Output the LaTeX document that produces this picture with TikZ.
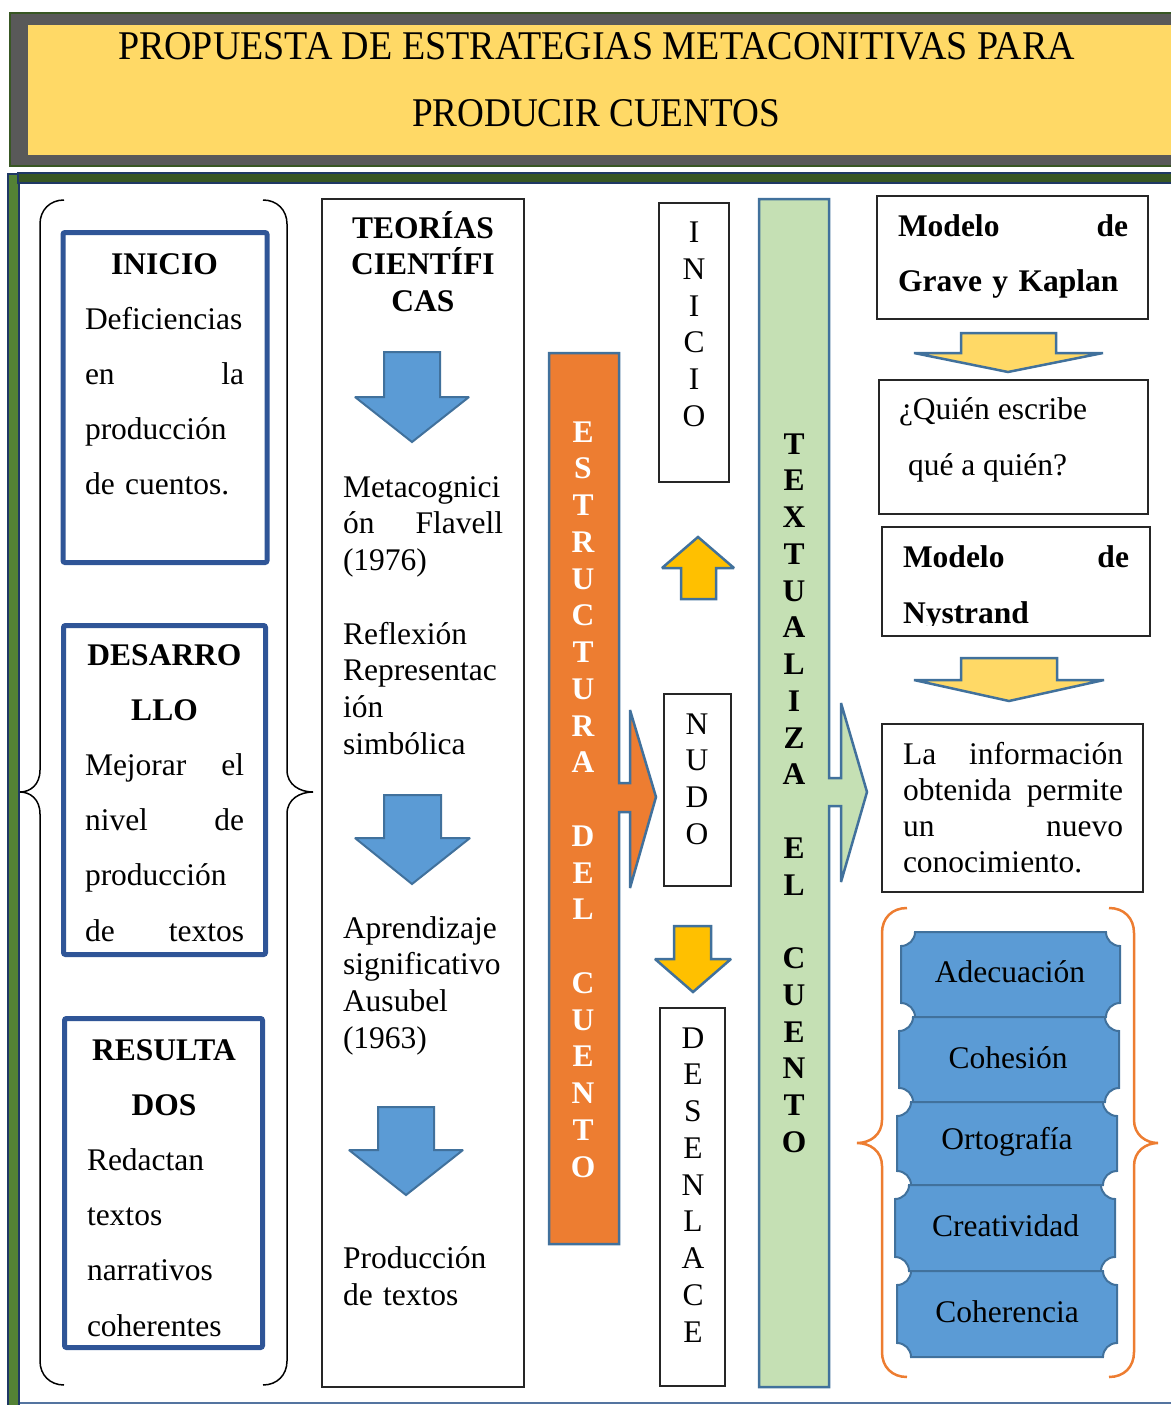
\documentclass[tikz,border=0pt]{standalone}
\usepackage{fontspec}
\setmainfont{Liberation Serif}
\usepackage{graphicx}
\definecolor{tgreen}{RGB}{56,87,35}
\definecolor{tgray}{RGB}{89,89,89}
\definecolor{tyellow}{RGB}{255,217,102}
\definecolor{navy}{RGB}{31,56,100}
\definecolor{fgreen}{RGB}{56,87,35}
\definecolor{fgreenb}{RGB}{84,130,53}
\definecolor{bline}{RGB}{84,116,160}
\definecolor{boxblue}{RGB}{47,85,151}
\definecolor{arrblue}{RGB}{91,155,213}
\definecolor{arredge}{RGB}{65,113,156}
\definecolor{orng}{RGB}{237,125,49}
\definecolor{lgreen}{RGB}{197,224,180}
\definecolor{gold}{RGB}{255,192,0}
\definecolor{kbox}{RGB}{38,38,38}
\newcommand{\tkshape}[4]{%
 \path[ticket] ({#1+14},#2) -- ({#3-14},#2) .. controls ({#3-14},{#2+7.7}) and ({#3-7.7},{#2+14}) .. (#3,{#2+14})
 -- (#3,{#4-14}) .. controls ({#3-7.7},{#4-14}) and ({#3-14},{#4-7.7}) .. ({#3-14},#4)
 -- ({#1+14},#4) .. controls ({#1+14},{#4-7.7}) and ({#1+7.7},{#4-14}) .. (#1,{#4-14})
 -- (#1,{#2+14}) .. controls ({#1+7.7},{#2+14}) and ({#1+14},{#2+7.7}) .. ({#1+14},#2) -- cycle;}
\begin{document}
\begin{tikzpicture}[x=1pt,y=-1pt,miter limit=2,
  every node/.style={inner sep=0pt,outer sep=0pt},
  txt/.style={font=\fontsize{31.5}{36.75}\selectfont},
  dtxt/.style={font=\fontsize{31.5}{55.2}\selectfont},
  bluebox/.style={draw=boxblue,line width=5pt,rounded corners=2pt,fill=white},
  kboxst/.style={draw=kbox,line width=1.5pt,fill=white},
  barrow/.style={fill=arrblue,draw=arredge,line width=2pt},
  yarrow/.style={fill=tyellow,draw=arredge,line width=2.5pt},
  garrow/.style={fill=gold,draw=arredge,line width=2.5pt},
  ticket/.style={fill=arrblue,draw=arredge,line width=2pt},
  brk/.style={draw=black,line width=1.5pt},
  obrk/.style={draw=orng,line width=2.5pt}]
\useasboundingbox (0,0) rectangle (1170,1405);
% ---------- title ----------
\path[draw=tgreen,line width=2pt,fill=tgray] (10,13) rectangle (1180,166);
\path[fill=tyellow] (28,25) rectangle (1180,155);
\node[anchor=base west,font=\fontsize{40}{40}\selectfont] (title1) at (118,60)
  {\resizebox{957pt}{27pt}{PROPUESTA DE ESTRATEGIAS METACONITIVAS PARA}};
\node[anchor=base west,font=\fontsize{40}{40}\selectfont] (title2) at (412,126)
  {\resizebox{368pt}{27pt}{PRODUCIR CUENTOS}};
% ---------- frame ----------
\path[fill=fgreenb,draw=navy,line width=1.2pt] (8,174) rectangle (19,1412);
\path[fill=fgreen,draw=navy,line width=1.2pt] (18,173) rectangle (1180,183);
\draw[bline,line width=1.5pt] (20,1403) -- (1180,1403);
% ---------- left bracket ----------
\draw[brk] (64,200) .. controls (50,200) and (40,210) .. (40,224) -- (40,770)
  .. controls (40,785) and (30,792) .. (20,792) .. controls (30,792) and (40,799) .. (40,814)
  -- (40,1361) .. controls (40,1375) and (50,1385) .. (64,1385);
\draw[brk] (263,200) .. controls (277,200) and (287,210) .. (287,224) -- (287,770)
  .. controls (287,785) and (300,792) .. (313,792) .. controls (300,792) and (287,799) .. (287,814)
  -- (287,1361) .. controls (287,1375) and (277,1385) .. (263,1385);
% ---------- left boxes ----------
\node[bluebox,minimum width=204pt,minimum height=330pt] (inicioBox) at (165,397.5) {};
\node[bluebox,minimum width=202pt,minimum height=329pt] (desBox) at (164.5,790) {};
\node[bluebox,minimum width=198pt,minimum height=329pt] (resBox) at (163.5,1183) {};
\node[dtxt,anchor=north west,text width=159pt,align=left] (inicioTxt) at (85,252)
  {\hfill\rule{0pt}{22pt}\textbf{INICIO}\hfill\null\\
   Deficiencias\\ en\hfill la\\ producción\\ de cuentos.};
\node[dtxt,anchor=north west,text width=159pt,align=left] (desTxt) at (85,643)
  {\hfill\rule{0pt}{22pt}\textbf{DESARRO}\hfill\null\\
   \hfill\textbf{LLO}\hfill\null\\
   Mejorar\hfill el\\ nivel\hfill de\\ producción\\ de\hfill textos};
\node[dtxt,anchor=north west,text width=154pt,align=left] (resTxt) at (87,1038)
  {\hfill\rule{0pt}{22pt}\textbf{RESULTA}\hfill\null\\
   \hfill\textbf{DOS}\hfill\null\\
   Redactan\\ textos\\ narrativos\\ coherentes};
% ---------- theories column ----------
\node[kboxst,minimum width=202pt,minimum height=1188pt] (teorBox) at (423,793) {};
\node[txt,anchor=north,align=center] (teorTitle) at (423,208)
  {\rule{0pt}{30pt}\textbf{TEORÍAS}\\ \textbf{CIENTÍFI}\\ \textbf{CAS}};
\node[txt,anchor=north west,text width=160pt,align=left] (teorTxt) at (343,475)
  {\rule{0pt}{22pt}Metacognici\\ ón\hfill Flavell\\ (1976)\\[36.75pt]
   Reflexión\\ Representac\\ ión\\ simbólica\\[147pt]
   Aprendizaje\\ significativo\\ Ausubel\\ (1963)\\[183.75pt]
   Producción\\ de textos};
\path[barrow] (384,352) -- (440,352) -- (440,397) -- (469,397) -- (412,442) -- (355,397) -- (384,397) -- cycle;
\path[barrow] (384,795) -- (441,795) -- (441,838) -- (470,838) -- (412,884) -- (355,838) -- (384,838) -- cycle;
\path[barrow] (378,1107) -- (434,1107) -- (434,1150) -- (463,1150) -- (406,1195) -- (349,1150) -- (378,1150) -- cycle;
% ---------- orange column ----------
\path[fill=orng,draw=arredge,line width=2.5pt] (549,353) -- (619,353) -- (619,783) -- (630,783) -- (630,710)
  -- (656,797) -- (630,888) -- (630,812) -- (619,812) -- (619,1244) -- (549,1244) -- cycle;
\node[txt,anchor=north,align=center,text=white,font=\fontsize{31.5}{36.75}\selectfont\bfseries] (estTxt) at (583,420)
  {\rule{0pt}{22pt}E\\S\\T\\R\\U\\C\\T\\U\\R\\A\\[36.75pt]D\\E\\L\\[36.75pt]C\\U\\E\\N\\T\\O};
% ---------- story parts ----------
\node[kboxst,minimum width=70pt,minimum height=279pt] (inicioV) at (694,342.5) {};
\node[txt,anchor=north,align=center] (inicioVt) at (694,220.5)
  {\rule{0pt}{22pt}I\\N\\I\\C\\I\\O};
\path[garrow] (681,599) -- (716,599) -- (716,568) -- (734,568) -- (698,537) -- (662,568) -- (681,568) -- cycle;
\node[kboxst,minimum width=67pt,minimum height=192pt] (nudoV) at (697.5,790) {};
\node[txt,anchor=north,align=center] (nudoVt) at (697,712)
  {\rule{0pt}{22pt}N\\U\\D\\O};
\path[garrow] (674,926) -- (711,926) -- (711,959) -- (731,959) -- (693,992) -- (655,959) -- (674,959) -- cycle;
\node[kboxst,minimum width=65pt,minimum height=378pt] (desV) at (692.5,1197) {};
\node[txt,anchor=north,align=center] (desVt) at (693,1026)
  {\rule{0pt}{22pt}D\\E\\S\\E\\N\\L\\A\\C\\E};
% ---------- green column ----------
\path[fill=lgreen,draw=arredge,line width=2.5pt] (759,199) -- (829,199) -- (829,778) -- (841,778) -- (841,703)
  -- (867,792) -- (841,882) -- (841,806) -- (829,806) -- (829,1387) -- (759,1387) -- cycle;
\node[txt,anchor=north,align=center,font=\fontsize{31.5}{36.75}\selectfont\bfseries] (texTxt) at (794,432)
  {\rule{0pt}{22pt}T\\E\\X\\T\\U\\A\\L\\I\\Z\\A\\[36.75pt]E\\L\\[36.75pt]C\\U\\E\\N\\T\\O};
% ---------- right column ----------
\node[kboxst,minimum width=271pt,minimum height=123pt] (gkBox) at (1012.5,257.5) {};
\node[dtxt,anchor=north west,text width=230pt,align=left,font=\fontsize{31.5}{55}\selectfont\bfseries] (gkTxt) at (898,214)
  {\rule{0pt}{22pt}Modelo\hfill de\\ Grave y Kaplan};
\path[yarrow] (961,333) -- (1056,333) -- (1056,353) -- (1103,353) -- (1008,372) -- (914,353) -- (961,353) -- cycle;
\node[kboxst,minimum width=269pt,minimum height=134pt] (quienBox) at (1013.5,447) {};
\node[anchor=north west,align=left,font=\fontsize{31.5}{56}\selectfont] (quienTxt) at (899,397)
  {\rule{0pt}{22pt}¿Quién escribe\\ \hspace*{9pt}qué a quién?};
\node[kboxst,minimum width=268pt,minimum height=109pt] (nyBox) at (1016,581.5) {};
\begin{scope}
\clip (883,528) rectangle (1149,625);
\node[anchor=north west,text width=226pt,align=left,font=\fontsize{31.5}{56}\selectfont\bfseries] (nyTxt) at (903,545)
  {\rule{0pt}{22pt}Modelo\hfill de\\ Nystrand};
\end{scope}
\path[yarrow] (961,658) -- (1057,658) -- (1057,680) -- (1104,680) -- (1009,701) -- (914,680) -- (961,680) -- cycle;
\node[kboxst,minimum width=261pt,minimum height=168pt] (infoBox) at (1012.5,808) {};
\node[anchor=north west,text width=220pt,align=left,font=\fontsize{31.5}{36}\selectfont] (infoTxt) at (903,742)
  {\rule{0pt}{22pt}La\hfill información\\ obtenida\hfill permite\\ un\hfill nuevo\\ conocimiento.};
% ---------- orange brackets ----------
\draw[obrk] (907,908) .. controls (892,908) and (882,918) .. (882,933) -- (882,1120)
  .. controls (882,1135) and (870,1143) .. (857,1143) .. controls (870,1143) and (882,1151) .. (882,1166)
  -- (882,1352) .. controls (882,1367) and (892,1377) .. (907,1377);
\draw[obrk] (1109,908) .. controls (1124,908) and (1134,918) .. (1134,933) -- (1134,1120)
  .. controls (1134,1135) and (1146,1143) .. (1158,1143) .. controls (1146,1143) and (1134,1151) .. (1134,1166)
  -- (1134,1352) .. controls (1134,1367) and (1124,1377) .. (1109,1377);
% ---------- tickets ----------
\tkshape{901}{932}{1120}{1017}
\tkshape{899}{1017}{1119}{1102}
\tkshape{897}{1102}{1117}{1185}
\tkshape{895}{1185}{1115}{1271}
\tkshape{897}{1271}{1117}{1357}
\node[txt,anchor=base] (adec) at (1010,982) {Adecuación};
\node[txt,anchor=base] (cohes) at (1008,1068) {Cohesión};
\node[txt,anchor=base] (orto) at (1007,1149) {Ortografía};
\node[txt,anchor=base] (creat) at (1005.5,1236) {Creatividad};
\node[txt,anchor=base] (coher) at (1007,1322) {Coherencia};
\end{tikzpicture}
\end{document}
